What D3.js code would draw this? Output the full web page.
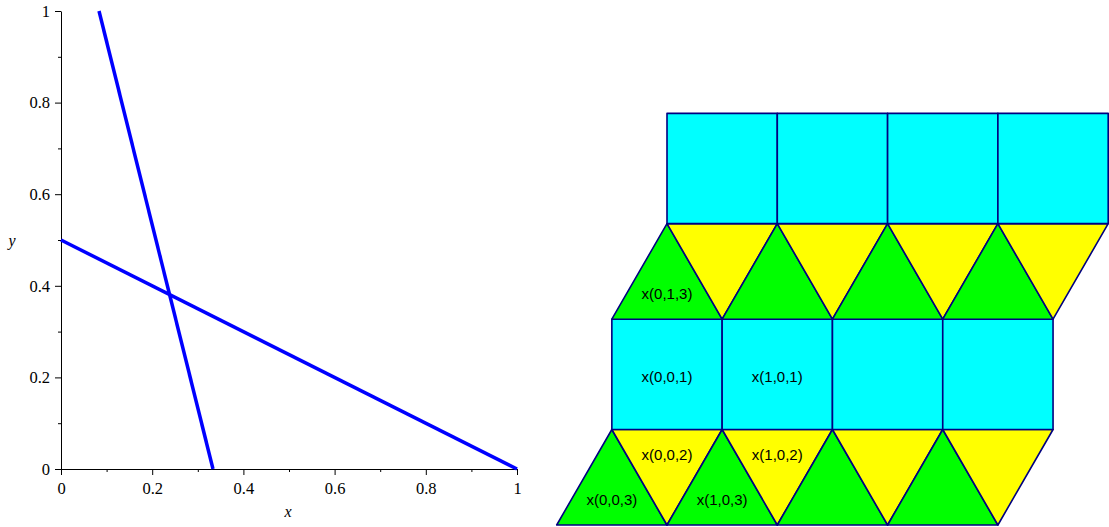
<!DOCTYPE html>
<html>
<head>
<meta charset="utf-8">
<script src="https://cdn.jsdelivr.net/npm/d3@7"></script>
<style>
  body { margin: 0; background: #fff; }
  svg { display: block; }
  .serif { font-family: "Liberation Serif", "Times New Roman", Times, serif; }
  .sans { font-family: "Liberation Sans", Arial, Helvetica, sans-serif; }
</style>
</head>
<body>
<svg id="chart" width="1109" height="527"></svg>
<script>
// left plot: two lines, given by their end points
const lineNames = ["steep", "shallow"];
const lineX = [[1 / 12, 1 / 3], [0, 1]];
const lineY = [[1, 0], [0.5, 0]];
const majorTicks = [0, 0.2, 0.4, 0.6, 0.8, 1];
const minorTicks = [0.1, 0.3, 0.5, 0.7, 0.9];

// right figure: rows of the tiling (bottom to top), 4 cells each
const rowKinds = ["tri", "square", "tri", "square"];
const rowShift = [0, 0.5, 0.5, 1];
const cellsPerRow = 4;
const cellLabels = [
  { text: "x(0,0,3)", row: 0, col: 0, kind: "up" },
  { text: "x(1,0,3)", row: 0, col: 1, kind: "up" },
  { text: "x(0,0,2)", row: 0, col: 0, kind: "down" },
  { text: "x(1,0,2)", row: 0, col: 1, kind: "down" },
  { text: "x(0,0,1)", row: 1, col: 0, kind: "square" },
  { text: "x(1,0,1)", row: 1, col: 1, kind: "square" },
  { text: "x(0,1,3)", row: 2, col: 0, kind: "up" }
];

const svg = d3.select("#chart");

//left plot
const x = d3.scaleLinear().domain([0, 1]).range([61, 517]);
const y = d3.scaleLinear().domain([0, 1]).range([469, 11]);

const gx = svg.append("g").attr("transform", `translate(0,${y(0)})`);
gx.call(d3.axisBottom(x).tickValues(majorTicks).tickSize(6).tickSizeOuter(0).tickPadding(7)
  .tickFormat(d3.format("~g")));
gx.append("g").call(d3.axisBottom(x).tickValues(minorTicks).tickSize(3).tickFormat(""))
  .select(".domain").remove();

const gy = svg.append("g").attr("transform", `translate(${x(0)},0)`);
gy.call(d3.axisLeft(y).tickValues(majorTicks).tickSize(6).tickSizeOuter(0).tickPadding(5)
  .tickFormat(d3.format("~g")));
gy.append("g").call(d3.axisLeft(y).tickValues(minorTicks).tickSize(3).tickFormat(""))
  .select(".domain").remove();

[gx, gy].forEach((g) => g.attr("font-family", null).attr("font-size", null));
svg.selectAll(".tick text")
  .attr("class", "serif")
  .attr("font-size", 16.5)
  .attr("fill", "#000");
svg.selectAll(".domain, .tick line").attr("stroke", "#000").attr("stroke-width", 1);

svg.append("text")
  .attr("class", "serif")
  .attr("x", 288).attr("y", 517)
  .attr("text-anchor", "middle")
  .attr("font-style", "italic").attr("font-size", 16)
  .text("x");
svg.append("text")
  .attr("class", "serif")
  .attr("x", 12).attr("y", 246)
  .attr("text-anchor", "middle")
  .attr("font-style", "italic").attr("font-size", 16)
  .text("y");

const line = d3.line().x((d) => x(d[0])).y((d) => y(d[1]));
svg.append("g")
  .selectAll("path")
  .data(lineNames)
  .join("path")
  .attr("d", (d, i) => line(d3.zip(lineX[i], lineY[i])))
  .attr("fill", "none")
  .attr("stroke", "#0000ff")
  .attr("stroke-width", 3.5);

//right figure (unit side length)
const h = Math.sqrt(3) / 2;
const rowBase = [0, h, h + 1, 2 * h + 1];
const rowHeight = rowKinds.map((k) => (k === "tri" ? h : 1));
const sx = d3.scaleLinear().domain([0, 5]).range([556.7, 556.7 + 5 * 110.3]);
const sy = d3.scaleLinear().domain([0, 2 + 2 * h]).range([525, 525 - (2 + 2 * h) * 110.3]);

const cells = [];
rowKinds.forEach((kind, r) => {
  const b = rowBase[r], t = b + rowHeight[r], s = rowShift[r];
  d3.range(cellsPerRow).forEach((c) => {
    const l = s + c;
    if (kind === "square") {
      cells.push({ fill: "#00ffff", pts: [[l, b], [l + 1, b], [l + 1, t], [l, t]] });
    } else {
      cells.push({ fill: "#00ff00", pts: [[l, b], [l + 1, b], [l + 0.5, t]] });
      cells.push({ fill: "#ffff00", pts: [[l + 0.5, t], [l + 1.5, t], [l + 1, b]] });
    }
  });
});

svg.append("g")
  .selectAll("polygon")
  .data(cells)
  .join("polygon")
  .attr("points", (d) => d.pts.map((p) => [sx(p[0]), sy(p[1])].join(",")).join(" "))
  .attr("fill", (d) => d.fill)
  .attr("stroke", "#000080")
  .attr("stroke-width", 1.6)
  .attr("stroke-linejoin", "round");

const labelPos = (d) => {
  const b = rowBase[d.row], s = rowShift[d.row];
  if (d.kind === "up") return [s + d.col + 0.5, b + h / 4];
  if (d.kind === "down") return [s + d.col + 1, b + h - h / 4 - 0.02];
  return [s + d.col + 0.5, b + 0.47];
};

svg.append("g")
  .selectAll("text")
  .data(cellLabels)
  .join("text")
  .attr("class", "sans")
  .attr("x", (d) => sx(labelPos(d)[0]))
  .attr("y", (d) => sy(labelPos(d)[1]))
  .attr("text-anchor", "middle")
  .attr("dominant-baseline", "middle")
  .attr("font-size", 15)
  .attr("fill", "#000")
  .text((d) => d.text);
</script>
</body>
</html>
